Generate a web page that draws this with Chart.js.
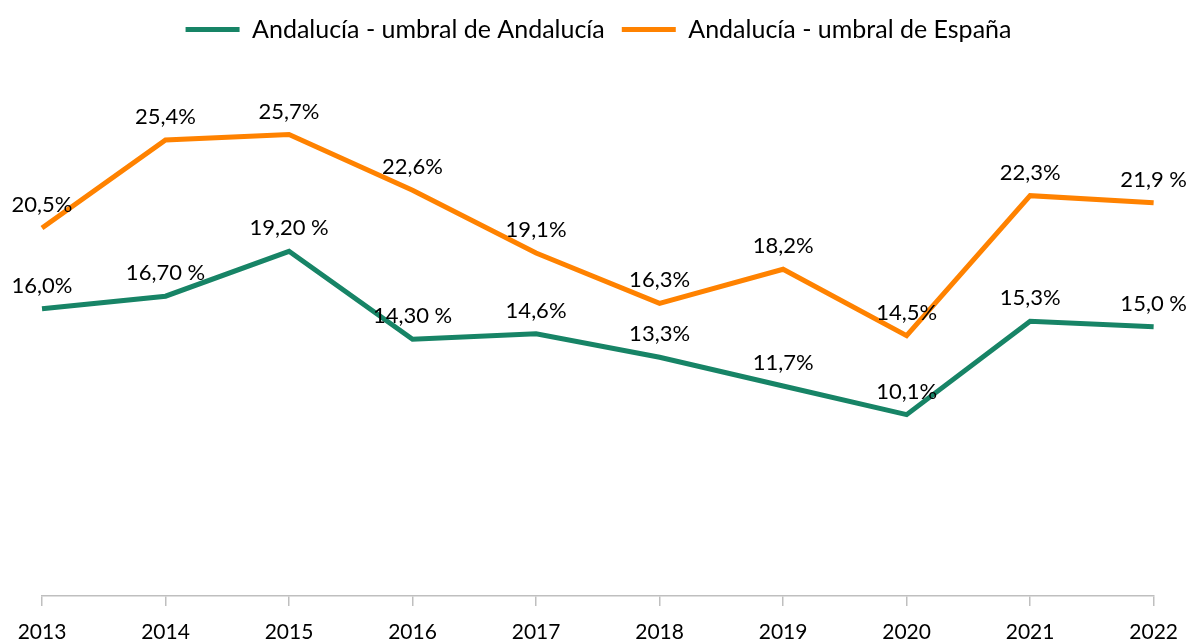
<!DOCTYPE html>
<html>
<head>
<meta charset="utf-8">
<script src="https://cdn.jsdelivr.net/npm/chart.js@4/dist/chart.umd.min.js"></script>
<style>
  html, body { margin: 0; padding: 0; background: #fff; }
  #wrap { width: 1192px; height: 642px; }
</style>
</head>
<body>
<div id="wrap"><canvas id="chart"></canvas></div>
<script>
// Years on the x axis
const years = ['2013', '2014', '2015', '2016', '2017', '2018', '2019', '2020', '2021', '2022'];

// Andalucía - umbral de Andalucía
const andaluciaValues = [16.0, 16.7, 19.2, 14.3, 14.6, 13.3, 11.7, 10.1, 15.3, 15.0];
const andaluciaLabels = ['16,0%', '16,70 %', '19,20 %', '14,30 %', '14,6%', '13,3%', '11,7%', '10,1%', '15,3%', '15,0 %'];

// Andalucía - umbral de España
const espanaValues = [20.5, 25.4, 25.7, 22.6, 19.1, 16.3, 18.2, 14.5, 22.3, 21.9];
const espanaLabels = ['20,5%', '25,4%', '25,7%', '22,6%', '19,1%', '16,3%', '18,2%', '14,5%', '22,3%', '21,9 %'];

const FONT = "'Lato', 'Open Sans', sans-serif";
const GREEN = '#178466';
const ORANGE = '#ff8200';

// draws the value text above every point
const pointLabels = {
    id: 'pointLabels',
    afterDatasetsDraw(chart) {
        const ctx = chart.ctx;
        ctx.save();
        ctx.font = '22px ' + FONT;
        ctx.fillStyle = '#000';
        ctx.textAlign = 'center';
        ctx.textBaseline = 'middle';
        chart.data.datasets.forEach((ds, i) => {
            const meta = chart.getDatasetMeta(i);
            meta.data.forEach((pt, j) => {
                ctx.fillText(ds.pointText[j], pt.x, pt.y - 23);
            });
        });
        ctx.restore();
    }
};

new Chart(document.getElementById('chart'), {
    type: 'line',
    data: {
        labels: years,
        datasets: [
            {
                label: 'Andalucía - umbral de Andalucía',
                data: andaluciaValues,
                pointText: andaluciaLabels,
                borderColor: GREEN,
                backgroundColor: GREEN,
                borderWidth: 5,
                pointRadius: 0,
                tension: 0
            },
            {
                label: 'Andalucía - umbral de España',
                data: espanaValues,
                pointText: espanaLabels,
                borderColor: ORANGE,
                backgroundColor: ORANGE,
                borderWidth: 5,
                pointRadius: 0,
                tension: 0
            }
        ]
    },
    options: {
        responsive: true,
        maintainAspectRatio: false,
        animation: false,
        layout: { padding: { left: 42, right: 37, top: 0, bottom: 0 } },
        plugins: {
            tooltip: { enabled: false },
            legend: {
                position: 'top',
                labels: {
                    font: { family: FONT, size: 25 },
                    color: '#000',
                    boxWidth: 54,
                    boxHeight: 5,
                    padding: 17,
                    generateLabels: (chart) =>
                        Chart.defaults.plugins.legend.labels.generateLabels(chart)
                            .map(l => ({ ...l, lineWidth: 0 }))
                }
            }
        },
        scales: {
            x: {
                offset: false,
                afterFit: (scale) => { scale.height = 46; },
                border: { display: true, color: '#bfbfbf', width: 1.5 },
                grid: { display: true, drawOnChartArea: false, drawTicks: true, tickLength: 10, color: '#bfbfbf', lineWidth: 1.5 },
                ticks: { font: { family: FONT, size: 21 }, color: '#000', padding: 14, maxRotation: 0 }
            },
            y: {
                display: false,
                min: 0,
                max: 30.3
            }
        }
    },
    plugins: [pointLabels]
});
</script>
</body>
</html>
